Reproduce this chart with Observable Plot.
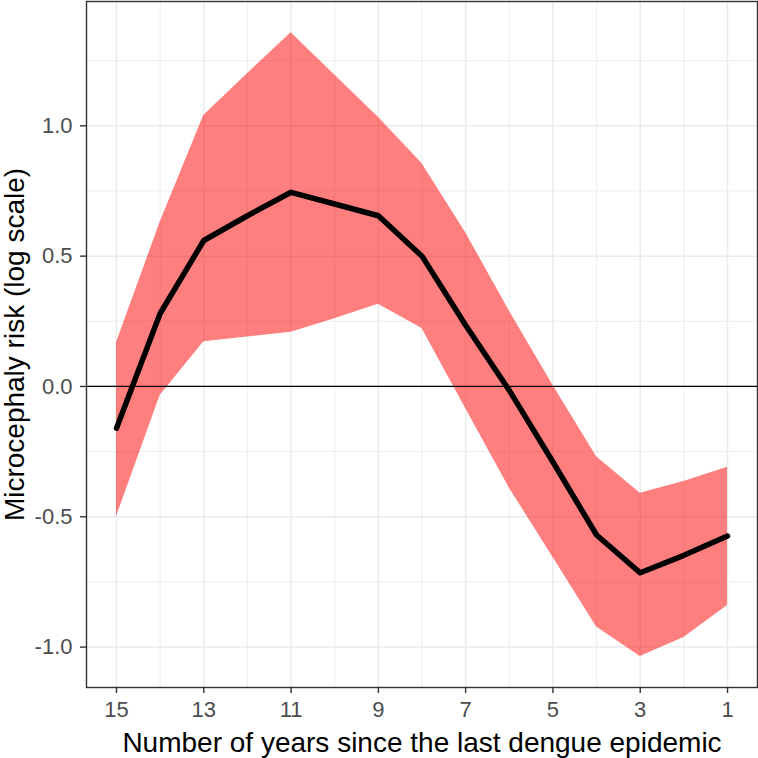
<!DOCTYPE html>
<html>
<head>
<meta charset="utf-8">
<script src="https://cdn.jsdelivr.net/npm/d3@7"></script>
<script src="https://cdn.jsdelivr.net/npm/@observablehq/plot@0.6"></script>
<style>
  html, body { margin: 0; padding: 0; background: white; }
  #chart svg { display: block; }
</style>
</head>
<body>
<div id="chart"></div>
<script>
const years    = [15, 14, 13, 12, 11, 10, 9, 8, 7, 6, 5, 4, 3, 2, 1];
const estimate = [-0.16, 0.28, 0.56, 0.655, 0.745, 0.70, 0.655, 0.50, 0.235, -0.015, -0.29, -0.57, -0.715, -0.648, -0.574];
const lower    = [-0.50, -0.035, 0.172, 0.19, 0.208, 0.26, 0.315, 0.222, -0.085, -0.39, -0.655, -0.923, -1.036, -0.963, -0.84];
const upper    = [0.168, 0.63, 1.04, 1.2, 1.357, 1.195, 1.033, 0.855, 0.59, 0.29, 0.005, -0.27, -0.41, -0.365, -0.31];

const xMajor = [15, 13, 11, 9, 7, 5, 3, 1];
const xMinor = [14, 12, 10, 8, 6, 4, 2];
const yMajor = [-1.0, -0.5, 0.0, 0.5, 1.0];
const yMinor = [-0.75, -0.25, 0.25, 0.75, 1.25];

const xTitle = "Number of years since the last dengue epidemic";
const yTitle = "Microcephaly risk (log scale)";

const data = years.map((y, i) => ({year: y, est: estimate[i], lo: lower[i], hi: upper[i]}));

const grid = "#EBEBEB";
const chart = Plot.plot({
  width: 758,
  height: 758,
  marginLeft: 86,
  marginRight: 1,
  marginTop: 1,
  marginBottom: 71,
  style: {fontFamily: "'Liberation Sans', Arial, Helvetica, sans-serif", background: "white", overflow: "visible"},
  x: {domain: [15.687, 0.313]},
  y: {domain: [-1.155, 1.477]},
  marks: [
    Plot.gridX(xMinor, {stroke: grid, strokeOpacity: 1, strokeWidth: 0.9}),
    Plot.gridY(yMinor, {stroke: grid, strokeOpacity: 1, strokeWidth: 0.9}),
    Plot.gridX(xMajor, {stroke: grid, strokeOpacity: 1, strokeWidth: 1.5}),
    Plot.gridY(yMajor, {stroke: grid, strokeOpacity: 1, strokeWidth: 1.5}),
    Plot.areaY(data, {x: "year", y1: "lo", y2: "hi", fill: "red", fillOpacity: 0.5}),
    Plot.ruleY([0], {stroke: "black", strokeWidth: 1.2}),
    Plot.line(data, {x: "year", y: "est", stroke: "black", strokeWidth: 5.5}),
    Plot.frame({stroke: "#333333", strokeWidth: 1.4}),
    Plot.axisX(xMajor, {tickSize: 6, tickPadding: 8, fontSize: 22, stroke: "#333333", fill: "#4D4D4D", strokeWidth: 1.4, label: null, tickFormat: d => String(d)}),
    Plot.axisY(yMajor, {tickSize: 6, tickPadding: 8, fontSize: 22, stroke: "#333333", fill: "#4D4D4D", strokeWidth: 1.4, label: null, tickFormat: d => d.toFixed(1)}),
    Plot.text([xTitle], {frameAnchor: "bottom", textAnchor: "middle", lineAnchor: "top", dy: 45, fontSize: 28, fill: "black"}),
    Plot.text([yTitle], {frameAnchor: "left", textAnchor: "middle", rotate: -90, lineAnchor: "top", dx: -82, fontSize: 28, fill: "black"})
  ]
});
document.getElementById("chart").appendChild(chart);
</script>
</body>
</html>
